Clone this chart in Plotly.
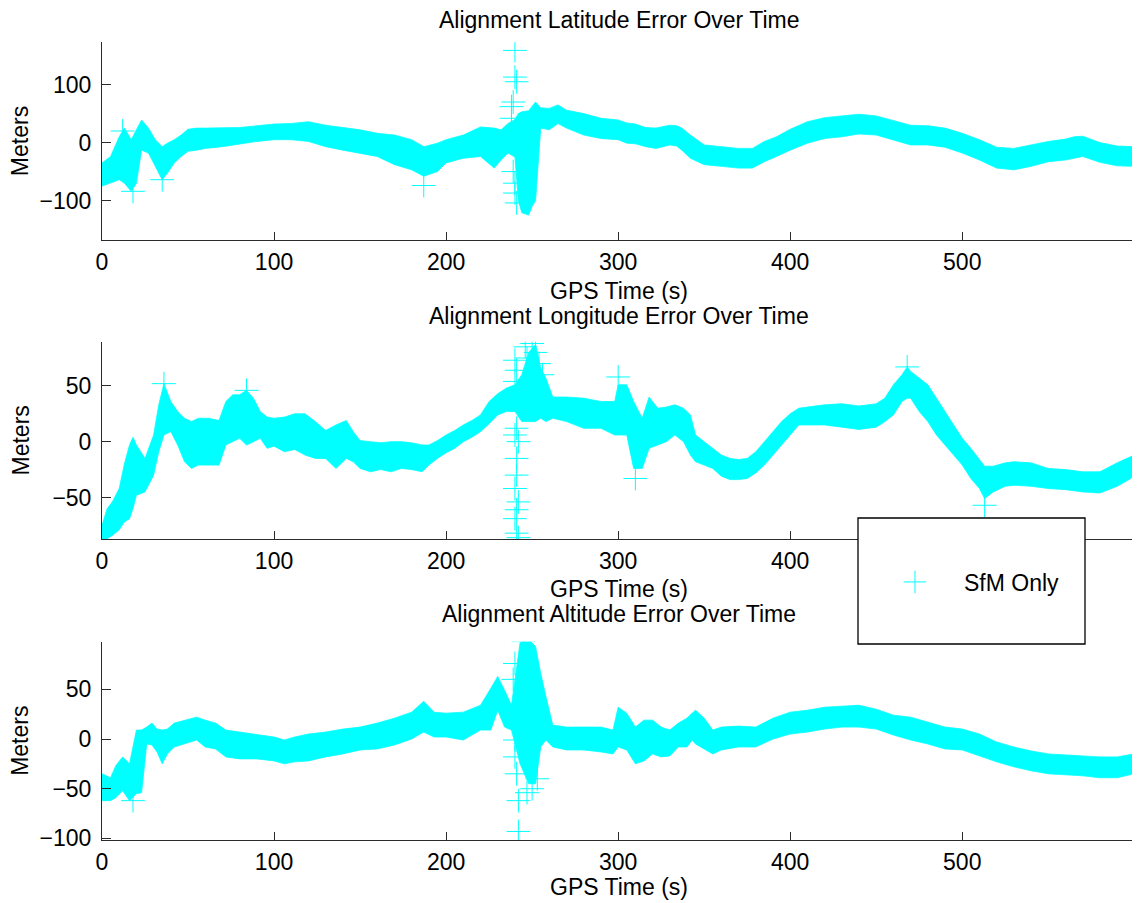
import plotly.graph_objects as go

# ---------------- data ----------------
# Latitude error: band envelope (upper / lower) over time
lat_t = [0,5,10,13,17,20,23,27,31,35,38,42,46,50,55,60,70,80,90,100,110,120,130,140,150,160,170,180,187,195,
         200,210,220,228,232,236,240,242,244,248,250,252,255,260,265,270,280,290,300,305,310,316,322,330,334,337,342,350,360,370,
         378,385,392,400,410,420,430,440,450,460,470,480,490,500,510,520,530,540,550,560,565,570,580,590,600]
lat_hi = [-35,-24,10,25,5,22,39,25,5,-7,-1,5,13,23,25,25,25,26,29,32,33,36,30,26,22,16,13,5,-7,-1,
          5,13,27,25,22,33,40,50,53,55,62,70,60,59,65,56,50,42,39,34,32,26,25,30,29,25,13,-4,-7,-10,
          -10,2,10,23,36,43,46,49,46,38,30,29,25,16,5,-8,-10,-4,2,6,10,11,0,-6,-7]
lat_lo = [-75,-70,-64,-70,-84,-70,-13,-18,-41,-64,-53,-35,-24,-15,-13,-10,-7,-2,2,5,5,2,-7,-13,-18,-24,-38,-47,-58,-50,
          -35,-27,-24,-44,-30,-18,-25,-100,-121,-125,-110,-100,25,22,33,25,13,7,5,-1,-2,-7,-10,-4,-6,-13,-27,-38,-41,-44,
          -44,-33,-24,-13,-1,7,10,15,13,5,-4,-4,-8,-18,-30,-44,-47,-41,-33,-30,-27,-24,-34,-40,-41]
lat_out_t = [240,240,241,239,238,238,239,240,240,241,12,18,35,187]
lat_out_v = [159,113,105,70,62,42,-50,-70,-87,-104,20,-84,-64,-74]

# Longitude error
lon_t = [0,3,6,10,13,16,18,20,25,30,33,36,40,44,48,52,56,62,68,72,76,80,84,88,92,96,100,106,112,118,
         124,130,136,142,146,150,156,162,168,174,180,186,190,195,200,205,210,215,220,225,230,235,240,244,248,252,255,258,262,270,
         280,290,298,300,305,309,314,318,323,328,333,338,342,345,350,355,360,365,370,375,380,385,390,395,400,405,410,420,430,440,
         450,455,460,465,468,470,475,480,485,490,495,500,505,510,513,518,525,530,540,550,560,570,580,590,598,600]
lon_hi = [-75,-60,-54,-42,-20,-3,4,-3,-15,6,33,52,36,27,21,18,21,21,19,36,42,42,46,39,27,22,21,22,25,25,
          18,10,15,19,9,1,0,-1,0,0,-1,-3,-3,1,6,10,15,19,24,36,43,48,51,60,80,87,66,57,40,40,
          39,36,36,51,51,36,21,40,30,31,33,30,24,6,0,-6,-12,-15,-16,-15,-9,0,9,18,25,30,31,33,34,32,
          34,39,51,60,67,63,57,51,39,27,15,3,-6,-16,-22,-22,-19,-18,-19,-24,-25,-27,-27,-19,-13,-12]
lon_lo = [-88,-87,-84,-79,-72,-69,-60,-48,-45,-30,-9,6,9,-3,-18,-24,-21,-21,-21,-3,0,3,-3,0,3,-6,-4,-9,-7,-12,
          -15,-15,-24,-15,-18,-24,-27,-25,-27,-24,-25,-27,-21,-15,-10,-6,0,4,9,16,24,27,27,18,18,18,21,18,21,18,
          12,12,6,6,6,-24,-24,-6,-3,0,6,0,-12,-18,-21,-24,-31,-34,-34,-33,-28,-21,-12,-3,7,15,15,15,13,11,
          13,18,24,36,39,39,27,18,6,-3,-12,-21,-33,-42,-51,-45,-40,-39,-40,-42,-43,-45,-46,-40,-33,-30]
lon_out_t = [240,241,240,241,240,242,241,241,240,242,241,240,241,242,246,250,252,254,247,256,36,84,300,310,513,468]
lon_out_v = [73,64,54,12,6,0,-15,-30,-42,-54,-61,-69,-82,-86,85,88,80,70,75,60,52,46,58,-33,-57,67]

# Altitude error
alt_t = [0,5,8,12,16,20,23,26,29,32,35,38,42,48,55,60,66,72,80,90,100,106,112,120,130,140,150,160,170,180,
         187,193,200,210,220,226,230,234,238,243,248,252,255,258,262,270,280,290,297,300,305,310,315,320,325,330,335,340,343,345,
         350,355,360,370,380,390,400,410,420,430,440,450,460,470,480,490,500,510,520,530,540,550,560,570,580,590,600]
alt_hi = [-35,-39,-27,-18,-25,9,9,12,16,10,9,10,16,19,22,19,16,9,7,5,2,-1,2,5,7,10,12,16,21,27,
          38,27,26,27,34,51,63,49,34,97,100,93,66,43,14,12,12,12,9,32,26,12,19,19,12,9,16,21,26,29,
          21,9,12,13,12,21,27,29,32,33,34,30,24,22,17,12,10,5,-3,-8,-12,-15,-16,-17,-18,-18,-15]
alt_lo = [-62,-62,-59,-52,-62,-55,-54,-5,-6,-13,-25,-15,-8,-5,-1,-8,-10,-18,-20,-20,-22,-25,-23,-22,-18,-15,-11,-10,-6,0,
          7,2,2,-1,9,9,29,12,9,-25,-45,-45,-8,-1,-8,-11,-11,-13,-15,-8,-11,-25,-22,-15,-18,-17,-8,-8,-1,-5,
          -10,-15,-11,-8,-8,0,5,7,10,12,12,10,4,-1,-5,-10,-11,-17,-23,-28,-32,-35,-36,-37,-39,-39,-35]
alt_out_t = [240,241,240,240,241,242,242,247,250,253,245,239,18]
alt_out_v = [76,22,-1,-18,-35,-62,-93,-54,-50,-40,98,60,-62]

titles = ["Alignment Latitude Error Over Time",
          "Alignment Longitude Error Over Time",
          "Alignment Altitude Error Over Time"]
x_ticks = [0, 100, 200, 300, 400, 500]
lat_ticks = [-100, 0, 100]
lon_ticks = [-50, 0, 50]
alt_ticks = [-100, -50, 0, 50]
legend_name = "SfM Only"
x_label = "GPS Time (s)"
y_label = "Meters"

# ---------------- styling / layout ----------------
CYAN = "#00FFFF"
FONT = "Liberation Sans, Arial, Helvetica, sans-serif"
FS = 23
AX = "#2b2b2b"
OFF = 8                      # page body margin of the browser
W, H = 1140 - OFF, 903 - OFF
ML, MR, MT, MB = 102 - OFF, 5, 42 - OFF, 63
PW, PH = W - ML - MR, H - MT - MB


def fy(py):
    """screen y pixel -> paper fraction"""
    return (H - MB - (py - OFF)) / PH


def fx(px):
    """screen x pixel -> paper fraction"""
    return (px - OFF - ML) / PW


panels = [
    dict(t=lat_t, hi=lat_hi, lo=lat_lo, ot=lat_out_t, ov=lat_out_v, ticks=lat_ticks,
         yr=[-168, 173], top=42.3, bot=240, title_y=20, xlab_y=291),
    dict(t=lon_t, hi=lon_hi, lo=lon_lo, ot=lon_out_t, ov=lon_out_v, ticks=lon_ticks,
         yr=[-87.5, 89.6], top=341.7, bot=539.3, title_y=316, xlab_y=589),
    dict(t=alt_t, hi=alt_hi, lo=alt_lo, ot=alt_out_t, ov=alt_out_v, ticks=alt_ticks,
         yr=[-101.6, 97.9], top=641.7, bot=840, title_y=614, xlab_y=887),
]

fig = go.Figure()
layout = dict(
    width=W, height=H,
    margin=dict(l=ML, r=MR, t=MT, b=MB, pad=0),
    paper_bgcolor="white", plot_bgcolor="white",
    font=dict(family=FONT, size=FS, color="black"),
    showlegend=True,
    annotations=[], shapes=[],
)

for i, p in enumerate(panels):
    n = "" if i == 0 else str(i + 1)
    xa, ya = "x" + n, "y" + n
    common = dict(xaxis=xa, yaxis=ya, hoverinfo="skip")
    fig.add_trace(go.Scatter(x=p["t"], y=p["lo"], mode="lines",
                             line=dict(color=CYAN, width=0.8), showlegend=False, **common))
    fig.add_trace(go.Scatter(x=p["t"], y=p["hi"], mode="lines", fill="tonexty",
                             fillcolor=CYAN, line=dict(color=CYAN, width=0.8),
                             showlegend=False, **common))
    fig.add_trace(go.Scatter(x=p["ot"], y=p["ov"], mode="markers", name=legend_name,
                             marker=dict(symbol="cross-thin", size=17, color=CYAN,
                                         line=dict(color=CYAN, width=1)),
                             showlegend=(i == 0), **common))

    layout["xaxis" + n] = dict(
        domain=[0, 1], range=[0, 600.4], anchor=ya,
        showline=True, linecolor=AX, linewidth=1,
        ticks="inside", ticklen=8, tickcolor=AX, tickwidth=1,
        tickvals=x_ticks, showgrid=False, zeroline=False,
        tickfont=dict(size=FS), ticklabelstandoff=1,
    )
    layout["yaxis" + n] = dict(
        domain=[fy(p["bot"]), min(1.0, fy(p["top"]))], range=p["yr"], anchor=xa,
        showline=True, linecolor=AX, linewidth=1,
        ticks="inside", ticklen=9, tickcolor=AX, tickwidth=1,
        tickvals=p["ticks"], showgrid=False, zeroline=False,
        tickfont=dict(size=FS), ticklabelstandoff=5,
    )
    layout["annotations"].append(dict(
        text=titles[i], xref="paper", yref="paper", x=0.5, y=fy(p["title_y"]),
        xanchor="center", yanchor="middle", showarrow=False, font=dict(size=FS)))
    layout["annotations"].append(dict(
        text=x_label, xref="paper", yref="paper", x=0.5, y=fy(p["xlab_y"]),
        xanchor="center", yanchor="middle", showarrow=False, font=dict(size=FS)))
    layout["annotations"].append(dict(
        text=y_label, xref="paper", yref="paper", x=fx(20),
        y=fy((p["top"] + p["bot"]) / 2), textangle=-90,
        xanchor="center", yanchor="middle", showarrow=False, font=dict(size=FS)))

# legend box
layout["shapes"].append(dict(
    type="rect", xref="paper", yref="paper",
    x0=fx(858), x1=fx(1085), y0=fy(644), y1=fy(518),
    line=dict(color="black", width=1.3), fillcolor="white", layer="above"))
layout["legend"] = dict(
    x=fx(866), y=fy(582), xanchor="left", yanchor="middle",
    bgcolor="rgba(0,0,0,0)", borderwidth=0, itemwidth=88,
    font=dict(size=FS), itemsizing="trace",
)

fig.update_layout(**layout)
fig.write_html("out.html")
